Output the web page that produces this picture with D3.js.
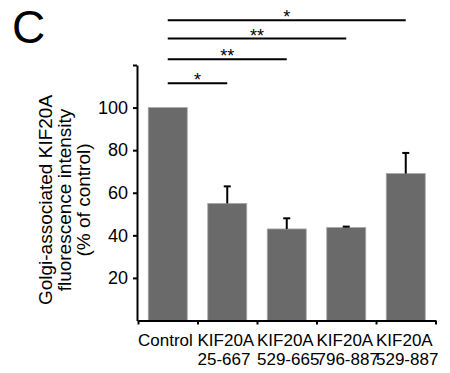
<!DOCTYPE html>
<html>
<head>
<meta charset="utf-8">
<script src="https://cdn.jsdelivr.net/npm/d3@7"></script>
<style>
  body { margin: 0; background: #fff; }
  svg { display: block; font-family: "Liberation Sans", Arial, sans-serif; }
</style>
</head>
<body>
<div id="chart"></div>
<script>
// values
const categories = ['Control', 'KIF20A 25-667', 'KIF20A 529-665', 'KIF20A 796-887', 'KIF20A 529-887'];
const labelLines = [['Control'], ['KIF20A', '25-667'], ['KIF20A', '529-665'], ['KIF20A', '796-887'], ['KIF20A', '529-887']];
const values = [100, 55, 43, 43.7, 69];
const errors = [0, 8, 5, 0.4, 9.7];
const yTicks = [20, 40, 60, 80, 100, 120];
const yTickLabels = ['20', '40', '60', '80', '100', ''];
// significance brackets: control vs each construct
const sigFrom = [0, 0, 0, 0];
const sigTo = [1, 2, 3, 4];
const sigLevel = [111.4, 122.7, 132.4, 141];
const sigText = ['*', '**', '**', '*'];

const width = 450, height = 373;
const svg = d3.select('#chart').append('svg')
    .attr('width', width)
    .attr('height', height);

const x = d3.scaleBand()
    .domain(categories)
    .range([138, 435.5])
    .padding(0);
const xEdge = d3.scaleLinear()
    .domain([0, categories.length])
    .range(x.range());
const y = d3.scaleLinear()
    .domain([0, 120])
    .range([320.5, 65]);

const barW = 39;
const cx = i => x(categories[i]) + x.bandwidth() / 2;

// panel letter
svg.append('text')
    .attr('x', 12)
    .attr('y', 43)
    .style('font-size', '46px')
    .text('C');

// y axis
const yAxis = d3.axisLeft(y)
    .tickValues(yTicks)
    .tickFormat((d, i) => yTickLabels[i])
    .tickSize(4)
    .tickSizeOuter(0)
    .tickPadding(5);
const yg = svg.append('g')
    .attr('transform', 'translate(137,0)')
    .call(yAxis);
yg.selectAll('path, line').attr('stroke', '#000').attr('stroke-width', 2);
yg.selectAll('text')
    .style('font-size', '18px')
    .style('font-family', '"Liberation Sans", Arial, sans-serif')
    .attr('fill', '#000');

// bars
svg.append('g').selectAll('rect')
    .data(values)
    .join('rect')
    .attr('x', (d, i) => cx(i) - barW / 2)
    .attr('y', d => y(d))
    .attr('width', barW)
    .attr('height', d => y(0) - y(d))
    .attr('fill', '#6a6a6a')
    .attr('stroke', '#a8a8a8')
    .attr('stroke-width', 0.8);

// error bars (upper only)
const eb = svg.append('g').attr('stroke', '#000').attr('stroke-width', 2);
values.forEach((v, i) => {
    if (!errors[i]) return;
    eb.append('line')
        .attr('x1', cx(i)).attr('x2', cx(i))
        .attr('y1', y(v)).attr('y2', y(v + errors[i]));
    eb.append('line')
        .attr('x1', cx(i) - 3.5).attr('x2', cx(i) + 3.5)
        .attr('y1', y(v + errors[i])).attr('y2', y(v + errors[i]));
});

// x axis with ticks at band edges
const xAxis = d3.axisBottom(xEdge)
    .tickValues(d3.range(categories.length + 1))
    .tickFormat('')
    .tickSize(4)
    .tickSizeOuter(0);
const xg = svg.append('g')
    .attr('transform', `translate(0,${y(0)})`)
    .call(xAxis);
xg.selectAll('path, line').attr('stroke', '#000').attr('stroke-width', 2);

// category labels, left aligned at band start
const lab = svg.append('g')
    .style('font-size', '17px')
    .attr('fill', '#000');
labelLines.forEach((lines, i) => {
    const t = lab.append('text')
        .attr('x', x(categories[i]))
        .attr('y', 346);
    lines.forEach((s, j) => {
        t.append('tspan')
            .attr('x', x(categories[i]))
            .attr('y', 346 + j * 19)
            .text(s);
    });
});

// y axis title
const titleLines = ['Golgi-associated KIF20A', 'fluorescence intensity', '(% of control)'];
const titleX = [52, 71, 89.5];
titleLines.forEach((s, i) => {
    svg.append('text')
        .attr('transform', `translate(${titleX[i]},200) rotate(-90)`)
        .attr('text-anchor', 'middle')
        .style('font-size', '19px')
        .text(s);
});

// significance brackets
const sg = svg.append('g');
sigLevel.forEach((lv, k) => {
    const x1 = cx(sigFrom[k]), x2 = cx(sigTo[k]);
    sg.append('line')
        .attr('x1', x1).attr('x2', x2)
        .attr('y1', y(lv)).attr('y2', y(lv))
        .attr('stroke', '#000')
        .attr('stroke-width', 2);
    sg.append('text')
        .attr('x', (x1 + x2) / 2)
        .attr('y', y(lv) + 3)
        .attr('text-anchor', 'middle')
        .style('font-size', '18px')
        .text(sigText[k]);
});
</script>
</body>
</html>
